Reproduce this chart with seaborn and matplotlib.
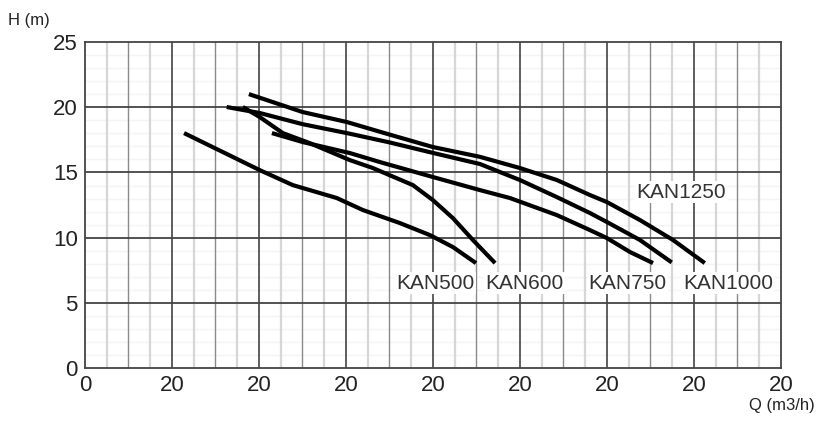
import matplotlib
matplotlib.use("Agg")
import matplotlib.pyplot as plt
import numpy as np
import pandas as pd
import seaborn as sns

# pump curves (x in chart units, 20 per major division)
kan500_q = [22.8, 40.2, 47.8, 57.9, 63.9, 72.4, 79.3, 84.6, 89.9]
kan500_h = [18.02, 15.18, 14.03, 13.04, 12.12, 11.12, 10.2, 9.28, 8.05]

kan600_q = [36.3, 40.2, 45.5, 51.7, 60.9, 66.2, 75.4, 80.0, 84.6, 89.2, 94.3]
kan600_h = [20.02, 19.25, 18.02, 17.25, 15.95, 15.34, 14.03, 12.88, 11.5, 9.82, 8.05]

kan750_q = [43.0, 50.1, 60.9, 67.8, 80.0, 90.8, 97.7, 108.5, 116.1, 120.0, 125.3, 130.6]
kan750_h = [18.02, 17.33, 16.49, 15.8, 14.65, 13.65, 13.04, 11.73, 10.58, 9.97, 8.9, 8.05]

kan1000_q = [32.6, 40.2, 50.1, 60.5, 70.1, 80.0, 90.8, 100.0, 108.5, 116.1, 120.0, 127.6, 134.9]
kan1000_h = [20.02, 19.56, 18.7, 18.0, 17.3, 16.5, 15.65, 14.42, 13.11, 11.89, 11.2, 9.82, 8.1]

kan1250_q = [37.7, 50.1, 60.2, 70.1, 80.0, 90.8, 100.0, 108.5, 116.1, 120.0, 127.6, 135.2, 142.5]
kan1250_h = [21.01, 19.63, 18.87, 17.9, 16.95, 16.2, 15.34, 14.42, 13.27, 12.73, 11.35, 9.82, 8.05]

names = ["KAN500", "KAN600", "KAN750", "KAN1000", "KAN1250"]
label_q = [80.5, 101.1, 124.8, 147.8, 137.0]
label_h = [6.5, 6.5, 6.5, 6.5, 13.5]

x_ticks = [0, 20, 40, 60, 80, 100, 120, 140, 160]
x_labels = ["0", "20", "20", "20", "20", "20", "20", "20", "20"]
y_ticks = [0, 5, 10, 15, 20, 25]

frames = []
for name, q, h in zip(names,
                      [kan500_q, kan600_q, kan750_q, kan1000_q, kan1250_q],
                      [kan500_h, kan600_h, kan750_h, kan1000_h, kan1250_h]):
    frames.append(pd.DataFrame({"Q": q, "H": h, "model": name}))
df = pd.concat(frames, ignore_index=True)

sns.set_style("white")
plt.rcParams["font.family"] = ["Liberation Sans", "DejaVu Sans"]

fig = plt.figure(figsize=(8.16, 4.25), dpi=100)
ax = fig.add_axes([0.104, 0.134, 0.853, 0.767])

# grid: faint 1 m horizontals, quarter / half verticals, dark majors
for yv in np.arange(1, 25):
    if yv % 5:
        ax.axhline(yv, color="#f4f4f4", lw=1, zorder=0)
for xv in np.arange(5, 160, 5):
    if xv % 20 == 0:
        ax.axvline(xv, color="#333333", lw=1.1, zorder=1)
    elif xv % 10 == 0:
        ax.axvline(xv, color="#8a8a8a", lw=1, zorder=1)
    else:
        ax.axvline(xv, color="#d6d6d6", lw=1.6, zorder=1)
for yv in y_ticks[1:-1]:
    ax.axhline(yv, color="#444444", lw=1.3, zorder=1)

for name in names:
    sub = df[df["model"] == name]
    sns.lineplot(data=sub, x="Q", y="H", sort=False, color="black",
                 lw=3.0, ax=ax, zorder=3, legend=False)
for line in ax.lines[-5:]:
    line.set_solid_capstyle("butt")
    line.set_solid_joinstyle("round")

for name, q, h in zip(names, label_q, label_h):
    ax.text(q, h, name, ha="center", va="center", fontsize=15,
            color="#333333", zorder=4,
            bbox=dict(facecolor="white", edgecolor="none", pad=1.0))

ax.set_xlim(0, 160)
ax.set_ylim(0, 25)
ax.set_xticks(x_ticks)
ax.set_xticklabels(x_labels)
ax.set_yticks(y_ticks)
ax.tick_params(axis="both", labelsize=16, length=0, colors="#222222")
ax.tick_params(axis="x", pad=5)
ax.tick_params(axis="y", pad=5)
ax.set_xlabel("")
ax.set_ylabel("")
for sp in ax.spines.values():
    sp.set_color("#444444")
    sp.set_linewidth(1.3)

fig.text(0.01, 0.94, "H (m)", fontsize=12, color="#222222")
fig.text(0.998, 0.035, "Q (m3/h)", fontsize=12, color="#222222", ha="right")

fig.savefig("out.png", dpi=100)
